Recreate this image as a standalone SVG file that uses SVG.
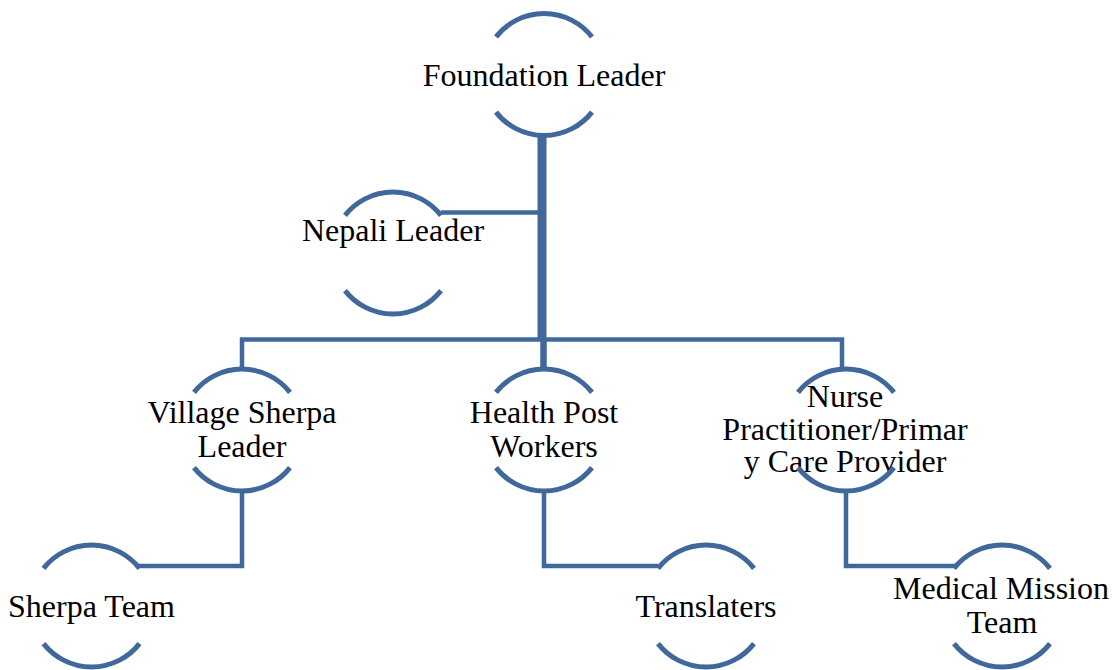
<svg xmlns="http://www.w3.org/2000/svg" width="1112" height="670" viewBox="0 0 1112 670">
  <style>
    .arc { fill: none; stroke: #41689a; stroke-width: 5; }
    .conn { fill: none; stroke: #41689a; stroke-width: 4.5; stroke-linejoin: miter; }
    .lbl { font-family: "Liberation Serif", "Times New Roman", serif; font-size: 32px; fill: #000; text-anchor: middle; }
  </style>
  <rect width="1112" height="670" fill="#ffffff"/>
  <g id="connectors">
    <path class="conn" d="M542 135 V340" style="stroke-width:9"/>
    <path class="conn" d="M543.5 340 V368" style="stroke-width:6.5"/>
    <path class="conn" d="M441 212.5 H542"/>
    <path class="conn" d="M242 368 V339.5 H842 V368"/>
    <path class="conn" d="M242 491 V566 H138"/>
    <path class="conn" d="M544 491 V566 H658"/>
    <path class="conn" d="M846 491 V566 H955"/>
  </g>
  <g id="node-foundation">
    <text class="lbl" x="544" y="86">Foundation Leader</text>
    <path class="arc" d="M496 36.9 A61 61 0 0 1 592 36.9"/>
    <path class="arc" d="M496 112.1 A61 61 0 0 0 592 112.1"/>
  </g>
  <g id="node-nepali">
    <text class="lbl" x="393" y="241">Nepali Leader</text>
    <path class="arc" d="M345 215.4 A61 61 0 0 1 441 215.4"/>
    <path class="arc" d="M345 290.6 A61 61 0 0 0 441 290.6"/>
  </g>
  <g id="node-village">
    <text class="lbl" x="242" y="423">Village Sherpa</text>
    <text class="lbl" x="242" y="457">Leader</text>
    <path class="arc" d="M194 392.4 A61 61 0 0 1 290 392.4"/>
    <path class="arc" d="M194 467.6 A61 61 0 0 0 290 467.6"/>
  </g>
  <g id="node-health">
    <text class="lbl" x="544" y="423">Health Post</text>
    <text class="lbl" x="544" y="457">Workers</text>
    <path class="arc" d="M496 392.4 A61 61 0 0 1 592 392.4"/>
    <path class="arc" d="M496 467.6 A61 61 0 0 0 592 467.6"/>
  </g>
  <g id="node-nurse">
    <text class="lbl" x="845" y="407">Nurse</text>
    <text class="lbl" x="845" y="439.5">Practitioner/Primar</text>
    <text class="lbl" x="845" y="472">y Care Provider</text>
    <path class="arc" d="M798 392.4 A61 61 0 0 1 894 392.4"/>
    <path class="arc" d="M798 467.6 A61 61 0 0 0 894 467.6"/>
  </g>
  <g id="node-sherpa-team">
    <text class="lbl" x="91.5" y="617">Sherpa Team</text>
    <path class="arc" d="M43.5 568.4 A61 61 0 0 1 139.5 568.4"/>
    <path class="arc" d="M43.5 643.6 A61 61 0 0 0 139.5 643.6"/>
  </g>
  <g id="node-translaters">
    <text class="lbl" x="706" y="617">Translaters</text>
    <path class="arc" d="M658 568.4 A61 61 0 0 1 754 568.4"/>
    <path class="arc" d="M658 643.6 A61 61 0 0 0 754 643.6"/>
  </g>
  <g id="node-medical">
    <text class="lbl" x="1001" y="599">Medical Mission</text>
    <text class="lbl" x="1002" y="633">Team</text>
    <path class="arc" d="M954 568.4 A61 61 0 0 1 1050 568.4"/>
    <path class="arc" d="M954 643.6 A61 61 0 0 0 1050 643.6"/>
  </g>
</svg>
